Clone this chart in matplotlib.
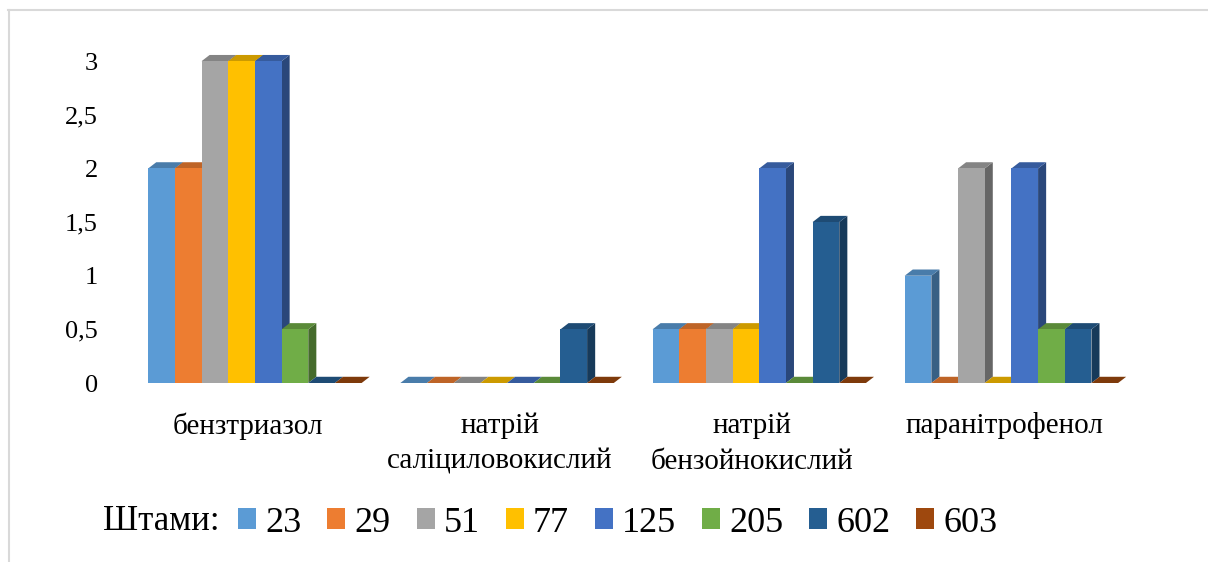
import numpy as np
import matplotlib.pyplot as plt
from matplotlib.patches import Polygon
from matplotlib.lines import Line2D
from matplotlib.colors import to_rgb
from matplotlib.transforms import ScaledTranslation

plt.rcParams['font.family'] = ['Liberation Serif', 'DejaVu Serif']

# data
categories = ['бензтриазол', 'натрій\nсаліциловокислий', 'натрій\nбензойнокислий', 'паранітрофенол']
strains = ['23', '29', '51', '77', '125', '205', '602', '603']
colors = ['#5B9BD5', '#ED7D31', '#A5A5A5', '#FFC000', '#4472C4', '#70AD47', '#255E91', '#9E480E']
values = {
    '23':  [2, 0, 0.5, 1],
    '29':  [2, 0, 0.5, 0],
    '51':  [3, 0, 0.5, 2],
    '77':  [3, 0, 0.5, 0],
    '125': [3, 0, 2, 2],
    '205': [0.5, 0, 0, 0.5],
    '602': [0, 0.5, 1.5, 0.5],
    '603': [0, 0, 0, 0],
}
yticks = [0, 0.5, 1, 1.5, 2, 2.5, 3]
ytick_labels = ['0', '0,5', '1', '1,5', '2', '2,5', '3']


def shade(c, f):
    r, g, b = to_rgb(c)
    return (r * f, g * f, b * f)


W, H = 1208, 562
fig = plt.figure(figsize=(W / 100, H / 100), dpi=100)
ax = fig.add_axes([120 / W, 179 / H, 1020 / W, 354 / H])

n = len(strains)
w = 0.1058            # bar width in category units
dx, dy = 0.032, 0.058  # fake depth of the 3d columns
x = np.arange(len(categories))

for j, s in enumerate(strains):
    x0 = x - n * w / 2 + j * w
    h = np.array(values[s], dtype=float)
    z = 3 + 3 * j
    ax.bar(x0, h, width=w, align='edge', color=colors[j], label=s, zorder=z + 2, linewidth=0)
    for xi, hi in zip(x0, h):
        top = [(xi, hi), (xi + w, hi), (xi + w + dx, hi + dy), (xi + dx, hi + dy)]
        ax.add_patch(Polygon(top, closed=True, facecolor=shade(colors[j], 0.8), edgecolor='none', zorder=z + 1))
        if hi > 0:
            side = [(xi + w, 0), (xi + w + dx, dy), (xi + w + dx, hi + dy), (xi + w, hi)]
            ax.add_patch(Polygon(side, closed=True, facecolor=shade(colors[j], 0.62), edgecolor='none', zorder=z))

ax.set_xlim(-0.535, 3.51)
ax.set_ylim(0, 3.3)
ax.set_yticks(yticks, ytick_labels)
ax.set_xticks(x, categories)
ax.tick_params(axis='y', length=0, pad=16, labelsize=19)
ax.tick_params(axis='x', length=0, pad=21, labelsize=21)
shift = ScaledTranslation(-7 / 100, 0, fig.dpi_scale_trans)
for lbl in ax.get_xticklabels():
    lbl.set_linespacing(1.5)
    lbl.set_transform(lbl.get_transform() + shift)
for sp in ax.spines.values():
    sp.set_visible(False)

# legend with its caption
fig.text(103 / W, 1 - 521 / H, 'Штами:', fontsize=25, va='center', ha='left')
handles, labels = ax.get_legend_handles_labels()
fig.legend(handles, labels, loc='center left', bbox_to_anchor=(238 / W, 1 - 523 / H),
           ncol=n, frameon=False, fontsize=26, borderpad=0, borderaxespad=0,
           handlelength=0.5, handleheight=0.5, handletextpad=0.25, columnspacing=0.72)

# light chart border (top and left only are visible)
fig.add_artist(Line2D([8 / W, 1], [1 - 10 / H] * 2, color='#d9d9d9', lw=1.5))
fig.add_artist(Line2D([9 / W] * 2, [0, 1 - 10 / H], color='#d9d9d9', lw=1.5))

fig.savefig('out.png', dpi=100)
